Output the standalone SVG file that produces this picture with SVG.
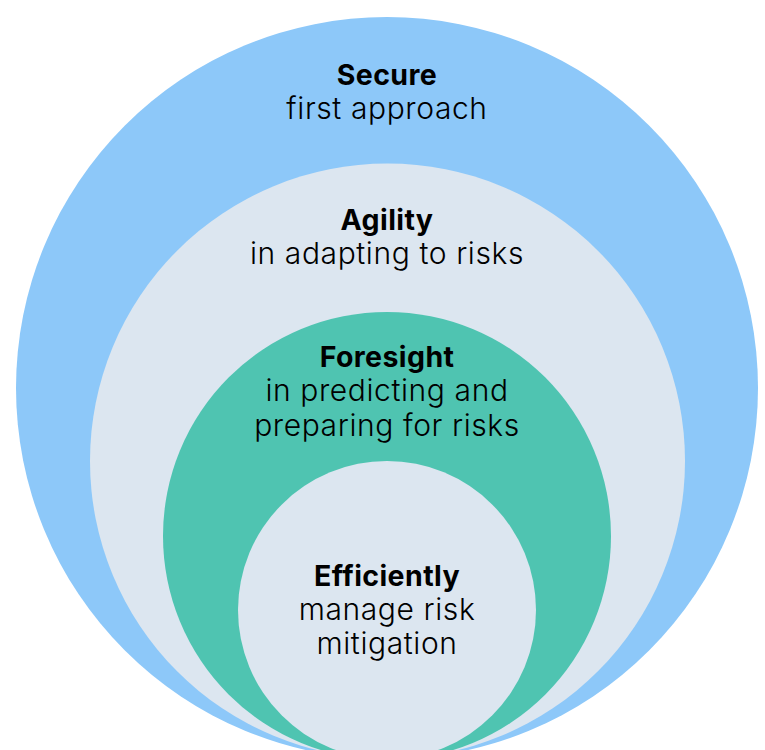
<svg xmlns="http://www.w3.org/2000/svg" width="765" height="750" viewBox="0 0 765 750">
<style>
.t{font-family:Inter,"Open Sans","Liberation Sans",sans-serif;fill:#000;text-anchor:middle}
.b{font-weight:700;font-size:28.5px;letter-spacing:0.4px}
.s{font-weight:300;font-size:30px;letter-spacing:0.6px}
</style>
<rect width="765" height="750" fill="#fff"/>
<g id="secure">
<circle cx="387" cy="388" r="371" fill="#8DC8F9"/>
<text class="t b" x="387" y="85">Secure</text>
<text class="t s" x="387" y="119">first approach</text>
</g>
<g id="agility">
<circle cx="387.5" cy="461" r="297.5" fill="#DCE6F0"/>
<text class="t b" x="387" y="230">Agility</text>
<text class="t s" x="387" y="264">in adapting to risks</text>
</g>
<g id="foresight">
<circle cx="387" cy="536" r="224" fill="#4FC4B1"/>
<text class="t b" x="387" y="367">Foresight</text>
<text class="t s" x="387" y="401">in predicting and</text>
<text class="t s" x="387" y="436">preparing for risks</text>
</g>
<g id="efficiently">
<circle cx="387" cy="610" r="149" fill="#DCE6F0"/>
<text class="t b" x="387" y="586">Efficiently</text>
<text class="t s" x="387" y="620">manage risk</text>
<text class="t s" x="387" y="654">mitigation</text>
</g>
<g id="connectors"/>
</svg>
